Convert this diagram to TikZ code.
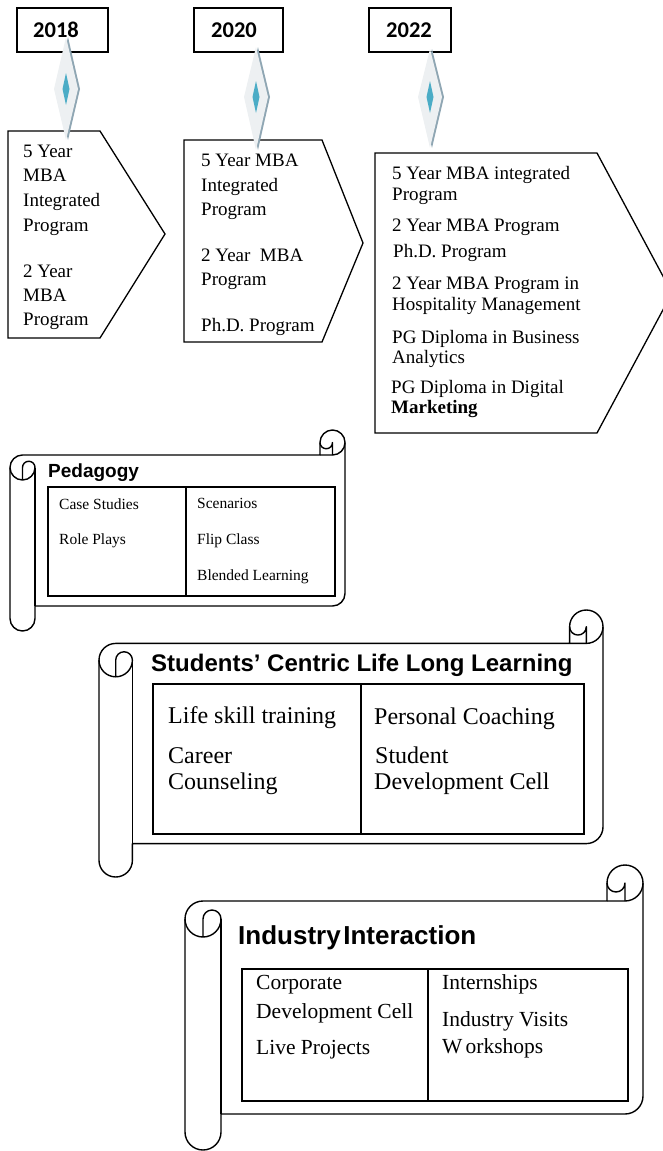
\documentclass[tikz,border=0pt]{standalone}
\usepackage{fontspec}
\setmainfont{Liberation Serif}
\newfontfamily\headfont{Liberation Sans}
\newfontfamily\yearfont{Carlito}
\definecolor{diablue}{HTML}{4BACC6}
\definecolor{diashade}{HTML}{8FA6B3}
\definecolor{diafill}{HTML}{EDF0F2}
\newcommand\scrollshape[5]{%
  \pgfmathsetmacro\qL{#1}\pgfmathsetmacro\qT{#2}\pgfmathsetmacro\qR{#3}\pgfmathsetmacro\qB{#4}%
  \pgfmathsetmacro\qC{#5}\pgfmathsetmacro\qH{#5/2}\pgfmathsetmacro\qQ{#5/4}%
  \draw[scrollline, fill=white] (\qL,{-(\qT+1.5*\qC)}) arc[start angle=180,end angle=90,radius=\qH pt]
    -- ({\qR-\qC},{-(\qT+\qC)}) -- ({\qR-\qC},{-(\qT+\qH)}) arc[start angle=180,end angle=0,radius=\qH pt]
    -- (\qR,{-(\qB-1.5*\qC)}) arc[start angle=0,end angle=-90,radius=\qH pt]
    -- ({\qL+\qC},{-(\qB-\qC)}) -- ({\qL+\qC},{-(\qB-\qH)}) arc[start angle=0,end angle=-180,radius=\qH pt]
    -- cycle;
  \draw[scrollline] ({\qR-\qC},{-(\qT+\qC)}) -- ({\qR-\qH},{-(\qT+\qC)}) arc[start angle=-90,end angle=0,radius=\qH pt];
  \draw[scrollline] ({\qR-\qH},{-(\qT+\qC)}) -- ({\qR-\qH},{-(\qT+\qH)}) arc[start angle=0,end angle=-180,radius=\qQ pt];
  \draw[scrollline] ({\qL+\qH},{-(\qT+2*\qC)}) -- ({\qL+\qH},{-(\qT+1.5*\qC)}) arc[start angle=180,end angle=0,radius=\qQ pt]
    arc[start angle=0,end angle=-180,radius=\qH pt];
  \draw[scrollline] ({\qL+\qC},{-(\qT+1.5*\qC)}) -- ({\qL+\qC},{-(\qB-\qC)});
}
\newcommand\yeardiamond[5]{% cx top mid bottom halfwidth
  \fill[diashade] ({#1+2},-#2) -- ({#1+#5+2},-#3) -- ({#1+2},-#4) -- ({#1-#5+2},-#3) -- cycle;
  \fill[diafill] (#1,-#2) -- ({#1+#5},-#3) -- (#1,-#4) -- ({#1-#5},-#3) -- cycle;
  \fill[diablue] (#1,{-(#3-16)}) -- ({#1+3.5},-#3) -- (#1,{-(#3+16)}) -- ({#1-3.5},-#3) -- cycle;
}
\begin{document}
\begin{tikzpicture}[x=1pt,y=1pt,
  line/.style={line width=1.3pt, draw=black, line join=miter},
  scrollline/.style={line width=1.4pt, draw=black, line join=round},
  tline/.style={line width=1.3pt, draw=black},
  txt/.style={anchor=west, inner sep=0pt, text height=1.3em, text depth=0.1em},
  yr/.style={txt, font=\yearfont\bfseries\fontsize{22.5}{26}\selectfont},
  btxt/.style={txt, font=\fontsize{19}{22}\selectfont},
  ped/.style={txt, font=\fontsize{15.5}{18}\selectfont},
  stu/.style={txt, font=\fontsize{24}{28}\selectfont},
  ind/.style={txt, font=\fontsize{21.5}{25}\selectfont},
  headA/.style={txt, font=\headfont\bfseries\fontsize{19}{22}\selectfont},
  headB/.style={txt, font=\headfont\bfseries\fontsize{24}{28}\selectfont},
  headC/.style={txt, font=\headfont\bfseries\fontsize{26}{30}\selectfont},
  ybox/.style={draw, line width=1.3pt, inner sep=0pt, minimum height=44pt}]
\useasboundingbox (0,0) rectangle (663,-1151);
\clip (0,0) rectangle (663,-1151);
% year boxes
\node[ybox, minimum width=91pt] (box2018) at (62.5,-30) {};
\node[ybox, minimum width=89pt] (box2020) at (238.5,-30) {};
\node[ybox, minimum width=82pt] (box2022) at (410,-30) {};
\node[yr] (t2018) at (33,-31) {2018};
\node[yr] (t2020) at (211,-31) {2020};
\node[yr] (t2022) at (386,-31) {2022};
% pentagons
\draw[line, fill=white] (8,-131) -- (100,-131) -- (165,-234) -- (100,-338) -- (8,-338) -- cycle;
\draw[line, fill=white] (184,-140) -- (322,-140) -- (363,-243) -- (322,-342) -- (184,-342) -- cycle;
\draw[line, fill=white] (375,-153) -- (597,-153) -- (672,-293) -- (597,-433) -- (375,-433) -- cycle;
% diamonds
\yeardiamond{66}{37}{89}{140}{12}
\yeardiamond{256}{47}{97}{150}{12}
\yeardiamond{430}{49}{97}{148}{12}
% box texts
\foreach \yy/\tt [count=\i] in {151/5 Year, 175/MBA, 200/Integrated, 225/Program, 271/2 Year, 295/MBA, 319/Program}
  \node[btxt] (pa-\i) at (23,-\yy) {\tt};
\foreach \yy/\tt [count=\i] in {160/5 Year MBA, 185/Integrated, 209/Program, 255/2 Year\ \ MBA, 279/Program, 325/Ph.D. Program}
  \node[btxt] (pb-\i) at (201,-\yy) {\tt};
\foreach \yy/\xx/\tt [count=\i] in {173/392/5 Year MBA integrated, 194/392/Program, 225/392/2 Year MBA Program, 251/393/Ph.D. Program, 283/392/2 Year MBA Program in, 304/392/Hospitality Management, 337/392/PG Diploma in Business, 357/392/Analytics, 387/391/PG Diploma in Digital, 407/391/\textbf{Marketing}}
  \node[btxt] (pc-\i) at (\xx,-\yy) {\tt};
% scrolls
\scrollshape{10}{430}{345}{631}{25}
\scrollshape{99}{610}{603}{877}{33.4}
\scrollshape{185}{865}{643}{1150}{36}
% pedagogy
\node[headA] (hped) at (48,-471) {Pedagogy};
\draw[tline] (48,-487) rectangle (335,-596);
\draw[tline] (186,-487) -- (186,-596);
\node[ped] (ped1) at (59,-503) {Case Studies};
\node[ped] (ped2) at (59,-538) {Role Plays};
\node[ped] (ped3) at (197,-502) {Scenarios};
\node[ped] (ped4) at (197,-538) {Flip Class};
\node[ped] (ped5) at (197,-574) {Blended Learning};
% students
\node[headB] (hstu) at (151,-665) {Students’ Centric Life Long Learning};
\draw[tline] (153,-684) rectangle (584,-834);
\draw[tline] (361,-684) -- (361,-834);
\node[stu] (stu1) at (168,-717) {Life skill training};
\node[stu] (stu2) at (168,-757) {Career};
\node[stu] (stu3) at (168,-783) {Counseling};
\node[stu] (stu4) at (374,-718) {Personal Coaching};
\node[stu] (stu5) at (375,-757) {Student};
\node[stu] (stu6) at (374,-783) {Development Cell};
% industry
\node[headC] (hind) at (238,-938) {Industry\hspace{0.1em}Interaction};
\draw[tline] (242,-969) rectangle (628,-1101);
\draw[tline] (428,-969) -- (428,-1101);
\node[ind] (ind1) at (256,-983) {Corporate};
\node[ind] (ind2) at (256,-1012) {Development Cell};
\node[ind] (ind3) at (256,-1048) {Live Projects};
\node[ind] (ind4) at (442,-983) {Internships};
\node[ind] (ind5) at (442,-1020) {Industry Visits};
\node[ind] (ind6) at (442,-1047) {W\kern0.15em orkshops};
\end{tikzpicture}
\end{document}
